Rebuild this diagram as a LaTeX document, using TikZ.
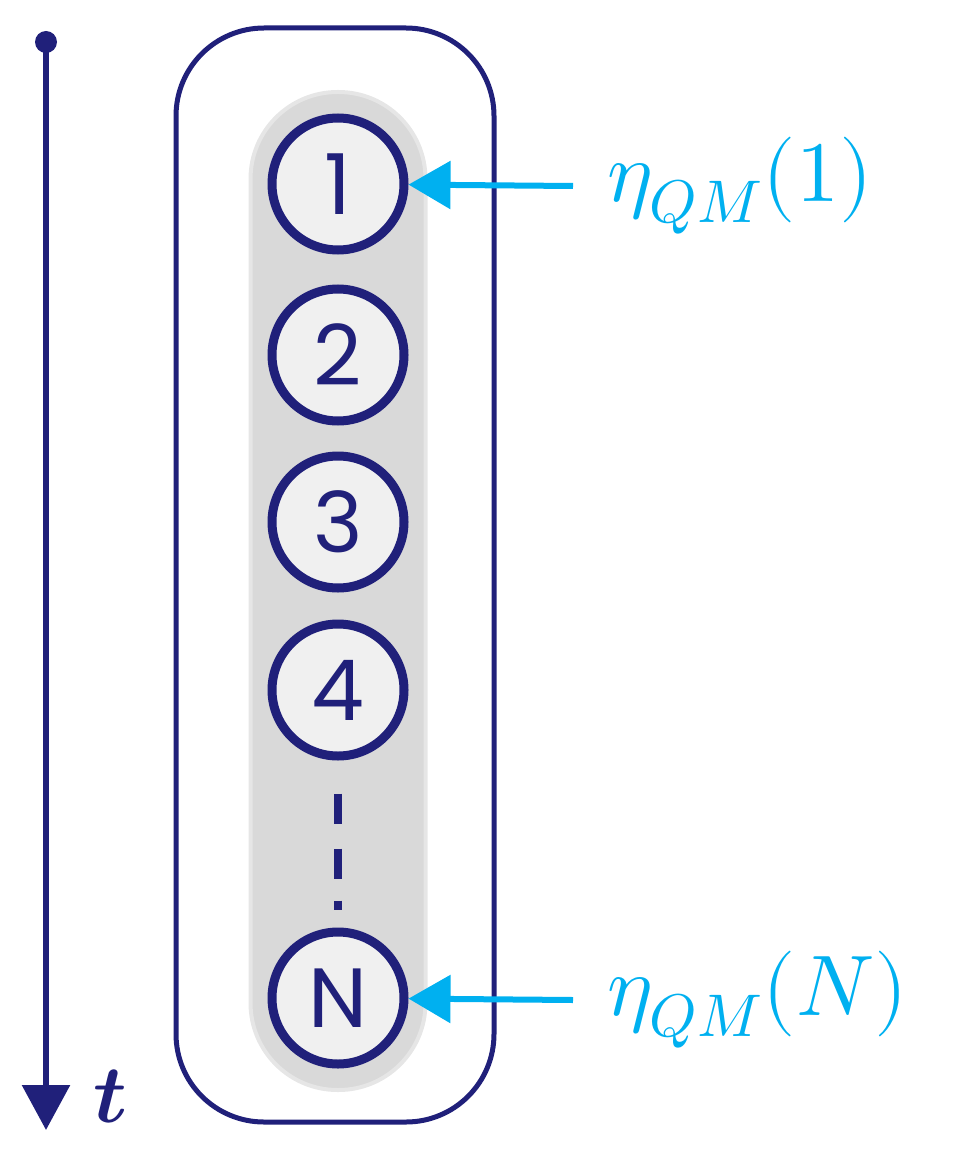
\documentclass[tikz,border=0pt]{standalone}
\usepackage{amsmath,amssymb}
\usepackage{fontspec}
\usepackage{unicode-math}
\usepackage{xcolor}
\usepackage{tikz}
\usetikzlibrary{arrows.meta}
\usetikzlibrary{positioning}

\newfontfamily\numfont{Poppins}
\definecolor{navy}{RGB}{32,32,122}
\definecolor{skyline}{RGB}{0,176,240}
\definecolor{capsulegray}{RGB}{217,217,217}
\definecolor{capsuleedge}{RGB}{230,230,230}
\definecolor{ballfill}{RGB}{240,240,240}

\begin{document}
\begin{tikzpicture}[x=1pt,y=-1pt,
  frame/.style={draw=navy,line width=5pt,rounded corners=88pt,minimum width=318pt,minimum height=1094pt},
  capsule/.style={draw=capsuleedge,fill=capsulegray,line width=4pt,rounded corners=87pt,minimum width=175pt,minimum height=998pt},
  ball/.style={circle,draw=navy,fill=ballfill,line width=9pt,minimum size=132pt,inner sep=0pt,
    text=navy,font=\numfont\fontsize{84}{90}\selectfont},
  feed/.style={draw=skyline,line width=6pt,-{Triangle[length=42pt,width=47pt]}},
  eta/.style={anchor=west,inner sep=0pt,text=skyline,font=\fontsize{86}{90}\selectfont},
  timeaxis/.style={draw=navy,line width=6pt,-{Triangle[length=45pt,width=47pt]}},
  dot/.style={circle,fill=navy,minimum size=22pt,inner sep=0pt}]
\useasboundingbox (0,0) rectangle (973,1169);
% outer box and grey column
\node[frame] (box) at (335,575) {};
\node[capsule] (col) at (338,591) {};
% the N steps
\foreach \n/\y in {1/184,2/355,3/522,4/690}
  \node[ball] (c\n) at (338,\y) {\n};
\node[ball] (cN) at (338,998) {N};
\draw[navy,line width=8pt,dash pattern=on 30pt off 25pt on 30pt off 22pt on 10pt off 100pt]
  ([yshift=-33pt]c4.south) -- ([yshift=18pt]cN.north);
% inputs
\node[eta] (lab1) at (607,186) {$\eta_{QM}(1)$};
\node[eta] (labN) at (607,1000) {$\eta_{QM}(N)$};
\draw[feed] ([xshift=-34pt]lab1.west) -- (c1);
\draw[feed] ([xshift=-34pt]labN.west) -- (cN);
% time axis
\node[dot] (start) at (46,42) {};
\coordinate (end) at (46,1130);
\draw[timeaxis] (start.center) -- (end);
\node[text=navy,font=\fontsize{82}{90}\selectfont] (tlab) at (111,1096) {$\symbfit{t}$};
\end{tikzpicture}
\end{document}
